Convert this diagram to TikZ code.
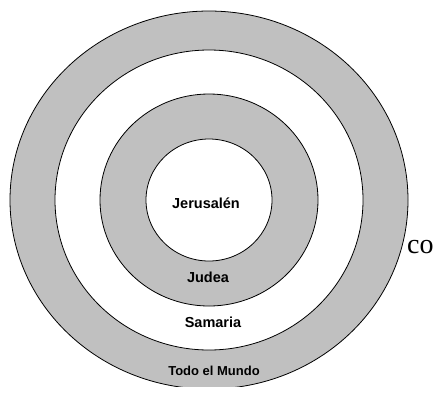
\documentclass[tikz,border=0pt]{standalone}
\usepackage{fontspec}
\setmainfont{Liberation Serif}
\setsansfont{Liberation Sans}
\definecolor{anillo}{HTML}{C0C0C0}

\begin{document}
\begin{tikzpicture}[x=1pt,y=-1pt, ring/.style={draw=black, line width=0.8pt}, lab/.style={anchor=base, font=\sffamily\bfseries\fontsize{14.5}{16}\selectfont}]
\useasboundingbox (0,0) rectangle (435,392);
% texto de fondo, tapado por los anillos
\node[anchor=base west, inner sep=0pt, font=\fontsize{28}{30}\selectfont] (co) at (407,253) {co};
% anillos, de fuera hacia dentro
\filldraw[ring, fill=anillo] (209,200) ellipse [x radius=199, y radius=189];
\filldraw[ring, fill=white] (209,200) ellipse [x radius=154, y radius=150];
\filldraw[ring, fill=anillo] (209,200) ellipse [x radius=109, y radius=106];
\filldraw[ring, fill=white] (209,200) ellipse [x radius=63, y radius=61];
\fill[white] (150,387) rectangle (268,393);
% nombres
\node[lab] (jer) at (206,208) {Jerusalén};
\node[lab] (jud) at (208,282.5) {Judea};
\node[lab] (sam) at (213,327.5) {Samaria};
\node[lab, font=\sffamily\bfseries\fontsize{13}{15}\selectfont] (mun) at (214,375) {Todo el Mundo};
\end{tikzpicture}
\end{document}
